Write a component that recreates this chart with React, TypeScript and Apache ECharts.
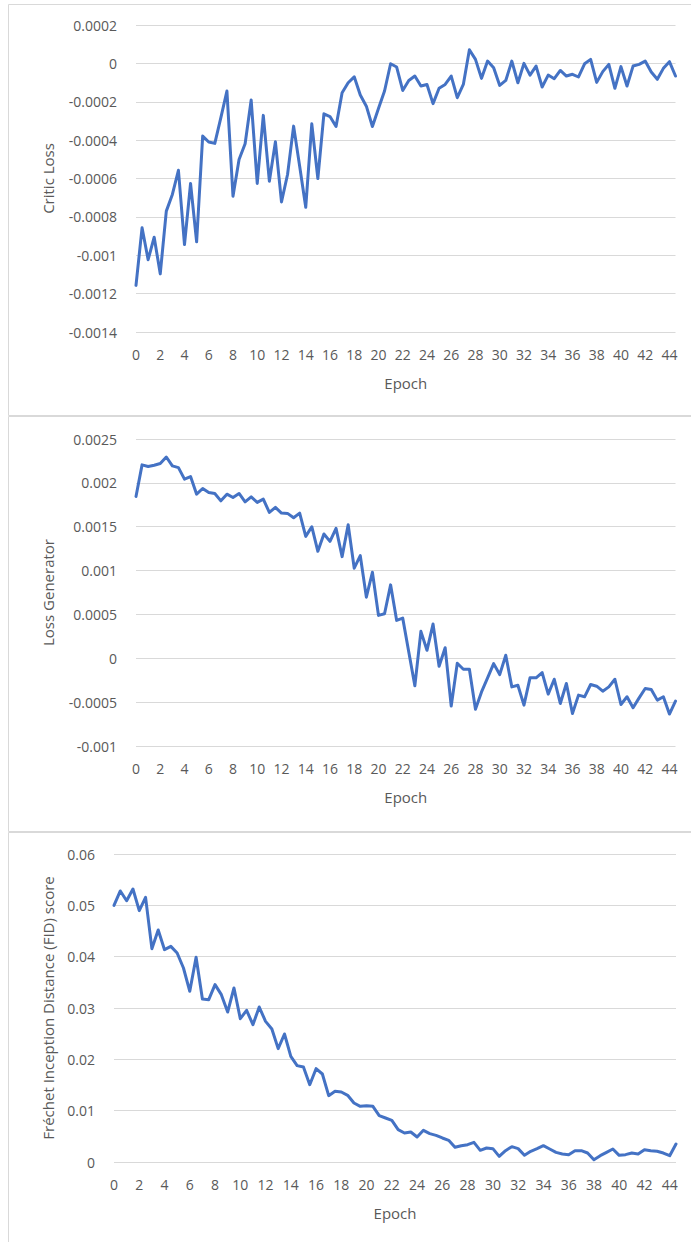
import React, { useEffect, useRef } from "react";
import * as echarts from "echarts";

const epochs = [
  0, 0.5, 1, 1.5, 2, 2.5, 3, 3.5, 4, 4.5, 5, 5.5, 6, 6.5, 7, 7.5, 8, 8.5, 9, 9.5,
  10, 10.5, 11, 11.5, 12, 12.5, 13, 13.5, 14, 14.5, 15, 15.5, 16, 16.5, 17, 17.5, 18, 18.5, 19, 19.5,
  20, 20.5, 21, 21.5, 22, 22.5, 23, 23.5, 24, 24.5, 25, 25.5, 26, 26.5, 27, 27.5, 28, 28.5, 29, 29.5,
  30, 30.5, 31, 31.5, 32, 32.5, 33, 33.5, 34, 34.5, 35, 35.5, 36, 36.5, 37, 37.5, 38, 38.5, 39, 39.5,
  40, 40.5, 41, 41.5, 42, 42.5, 43, 43.5, 44, 44.5,
];

const criticLoss = [
  -0.001157, -0.000857, -0.001023, -0.000906, -0.001097, -0.00077, -0.000683, -0.000557, -0.000944, -0.000626,
  -0.00093, -0.000379, -0.00041, -0.000417, -0.000283, -0.000144, -0.000692, -0.000501, -0.000419, -0.000191,
  -0.000626, -0.000271, -0.000614, -0.000409, -0.000722, -0.000579, -0.000327, -0.000536, -0.00075, -0.000315,
  -0.0006, -0.000263, -0.000277, -0.000329, -0.000153, -0.000101, -0.00007, -0.000165, -0.000223, -0.000329,
  -0.000235, -0.000144, -0.000002, -0.000019, -0.000141, -0.000089, -0.000066, -0.000118, -0.00011, -0.00021,
  -0.00013, -0.00011, -0.000066, -0.000179, -0.00011, 0.000071, 0.000021, -0.000078, 0.000012, -0.000023,
  -0.000115, -0.000089, 0.000012, -0.000101, 0.0, -0.000061, -0.000014, -0.000123, -0.000061, -0.00008,
  -0.000037, -0.000066, -0.000057, -0.000071, -0.000002, 0.000021, -0.000099, -0.000043, -0.000005, -0.00013,
  -0.000017, -0.000118, -0.000014, -0.000005, 0.000012, -0.000045, -0.000083, -0.000026, 0.000009, -0.000066,
];

const generatorLoss = [
  0.001845, 0.002205, 0.002186, 0.002201, 0.00222, 0.002295, 0.002193, 0.002174, 0.002042, 0.002072,
  0.001871, 0.001936, 0.00189, 0.001879, 0.001795, 0.001871, 0.001833, 0.001879, 0.001784, 0.001841,
  0.001777, 0.001814, 0.001663, 0.00172, 0.001655, 0.001652, 0.001602, 0.001655, 0.00139, 0.0015,
  0.00122, 0.001417, 0.001333, 0.001481, 0.001159, 0.001523, 0.001027, 0.00117, 0.000697, 0.000981,
  0.000489, 0.000508, 0.000837, 0.000432, 0.000458, 0.000072, -0.000314, 0.000307, 0.000091, 0.00039,
  -0.000091, 0.000121, -0.000545, -0.000057, -0.000125, -0.000125, -0.00058, -0.000383, -0.000223, -0.000061,
  -0.000186, 0.000034, -0.000326, -0.000307, -0.000534, -0.000223, -0.000223, -0.000163, -0.000409, -0.000239,
  -0.000515, -0.000288, -0.000629, -0.00042, -0.000439, -0.000299, -0.000318, -0.000375, -0.000326, -0.000239,
  -0.000527, -0.000439, -0.000564, -0.000451, -0.000345, -0.000356, -0.000477, -0.000439, -0.000636, -0.000489,
];

const fidScore = [
  0.05, 0.0528, 0.0509, 0.05318, 0.04896, 0.05156, 0.04156, 0.04519, 0.04136, 0.04201,
  0.04071, 0.03779, 0.03325, 0.03987, 0.03175, 0.03162, 0.03455, 0.0326, 0.02922, 0.0339,
  0.02792, 0.02955, 0.02675, 0.03019, 0.0274, 0.02591, 0.02208, 0.02494, 0.02058, 0.01877,
  0.01851, 0.01506, 0.01818, 0.01714, 0.01292, 0.01377, 0.01364, 0.01299, 0.01149, 0.01084,
  0.01097, 0.01084, 0.00903, 0.00857, 0.00812, 0.0063, 0.00565, 0.00584, 0.00487, 0.00617,
  0.00552, 0.00519, 0.00468, 0.00422, 0.00286, 0.00318, 0.00338, 0.00383, 0.00227, 0.00273,
  0.0026, 0.0011, 0.00221, 0.00299, 0.0026, 0.0013, 0.00208, 0.0026, 0.00318, 0.00253,
  0.00188, 0.00156, 0.00143, 0.00221, 0.00221, 0.00175, 0.00045, 0.00123, 0.00188, 0.00253,
  0.0013, 0.00143, 0.00175, 0.00156, 0.0024, 0.00221, 0.00208, 0.00175, 0.00123, 0.00351,
];

const yTitles = ["Critic Loss", "Loss Generator", "Fréchet Inception Distance (FID) score"];
const xTitle = "Epoch";
const yRanges = [
  { min: -0.0014, max: 0.0002, interval: 0.0002 },
  { min: -0.001, max: 0.0025, interval: 0.0005 },
  { min: 0, max: 0.06, interval: 0.01 },
];

const FONT = "'Open Sans', sans-serif";
const TEXT = "#595959";
const GRIDLINE = "#d9d9d9";
const LINE = "#4472C4";

export default function App() {
  const ref = useRef<HTMLDivElement>(null);

  useEffect(() => {
    const chart = echarts.init(ref.current!, null, { renderer: "svg" });
    const grids = [
      { left: 136, top: 25, width: 539.5, height: 307 },
      { left: 136, top: 439, width: 539.5, height: 307 },
      { left: 114, top: 854, width: 562, height: 308 },
    ];
    const nameGaps = [81, 81, 59];
    const series = [criticLoss, generatorLoss, fidScore];

    const fmt = (v: number) => String(+v.toFixed(6));

    chart.setOption({
      animation: false,
      backgroundColor: "#ffffff",
      textStyle: { fontFamily: FONT },
      graphic: [
        { type: "rect", shape: { x: 8.5, y: 4.5, width: 700, height: 411 }, style: { fill: "none", stroke: GRIDLINE, lineWidth: 1 } },
        { type: "rect", shape: { x: 8.5, y: 416.5, width: 700, height: 415 }, style: { fill: "none", stroke: GRIDLINE, lineWidth: 1 } },
        { type: "rect", shape: { x: 8.5, y: 832.5, width: 700, height: 420 }, style: { fill: "none", stroke: GRIDLINE, lineWidth: 1 } },
      ],
      grid: grids.map((g) => ({ ...g, containLabel: false })),
      xAxis: grids.map((_, i) => ({
        type: "category",
        gridIndex: i,
        data: epochs.map(String),
        boundaryGap: false,
        name: xTitle,
        nameLocation: "middle",
        nameGap: 43,
        nameTextStyle: { color: TEXT, fontSize: 15, fontFamily: FONT },
        axisLine: { show: false, onZero: false },
        axisTick: { show: false },
        axisLabel: { interval: 3, color: TEXT, fontSize: 14, margin: 15, fontFamily: FONT },
        splitLine: { show: false },
      })),
      yAxis: grids.map((_, i) => ({
        type: "value",
        gridIndex: i,
        min: yRanges[i].min,
        max: yRanges[i].max,
        interval: yRanges[i].interval,
        name: yTitles[i],
        nameLocation: "middle",
        nameRotate: 90,
        nameGap: nameGaps[i],
        nameTextStyle: { color: TEXT, fontSize: 15, fontFamily: FONT },
        axisLine: { show: false },
        axisTick: { show: false },
        axisLabel: { color: TEXT, fontSize: 14, margin: 19, fontFamily: FONT, formatter: fmt },
        splitLine: { show: true, lineStyle: { color: GRIDLINE, width: 1 } },
      })),
      series: series.map((d, i) => ({
        type: "line",
        xAxisIndex: i,
        yAxisIndex: i,
        data: d,
        symbol: "none",
        lineStyle: { color: LINE, width: 3, join: "round", cap: "round" },
        itemStyle: { color: LINE },
      })),
    });
    return () => chart.dispose();
  }, []);

  return (
    <div
      ref={ref}
      style={{ position: "absolute", left: 0, top: 0, width: 691, height: 1242, background: "#fff" }}
    />
  );
}
